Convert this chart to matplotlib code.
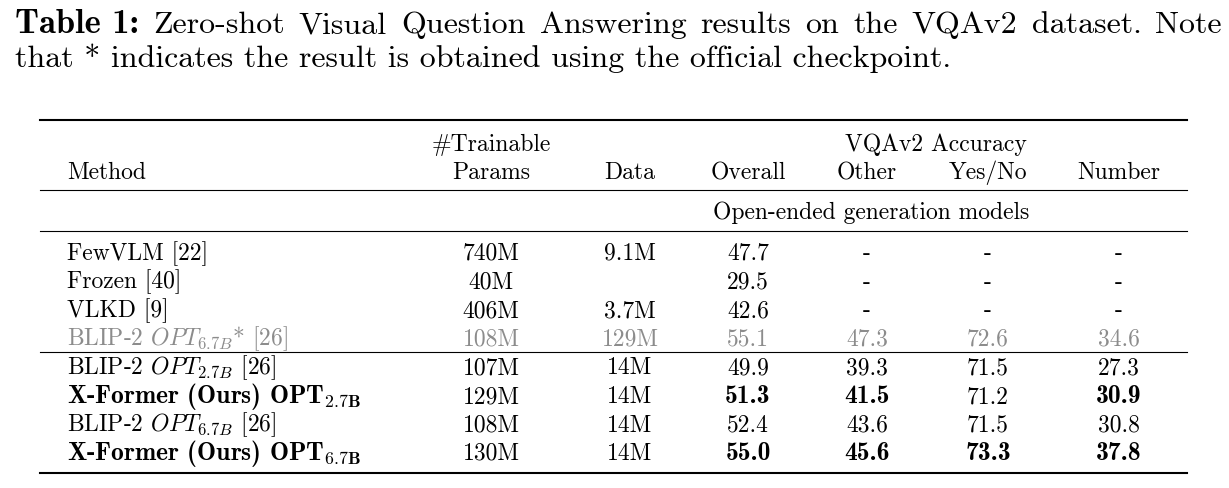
import matplotlib.pyplot as plt

plt.rcParams['mathtext.fontset'] = 'cm'
plt.rcParams['axes.unicode_minus'] = False

W, H = 1229, 489

caption_1 = ['Zero-shot', 'Visual', 'Question', 'Answering', 'results', 'on', 'the',
             'VQAv2', 'dataset.', 'Note']
caption_2 = 'that * indicates the result is obtained using the official checkpoint.'

methods = ['FewVLM [22]', 'Frozen [40]', 'VLKD [9]', r'BLIP-2 $OPT_{6.7B}$* [26]',
           r'BLIP-2 $OPT_{2.7B}$ [26]', r'X-Former (Ours) $\mathbf{OPT}_{\mathbf{2.7B}}$',
           r'BLIP-2 $OPT_{6.7B}$ [26]', r'X-Former (Ours) $\mathbf{OPT}_{\mathbf{6.7B}}$']
params = ['740M', '40M', '406M', '108M', '107M', '129M', '108M', '130M']
data = ['9.1M', '', '3.7M', '129M', '14M', '14M', '14M', '14M']
overall = ['47.7', '29.5', '42.6', '55.1', '49.9', '51.3', '52.4', '55.0']
other = ['-', '-', '-', '47.3', '39.3', '41.5', '43.6', '45.6']
yes_no = ['-', '-', '-', '72.6', '71.5', '71.2', '71.5', '73.3']
number = ['-', '-', '-', '34.6', '27.3', '30.9', '30.8', '37.8']

# which cells are bold / gray
bold_method = [0, 0, 0, 0, 0, 1, 0, 1]
bold_overall = [0, 0, 0, 0, 0, 1, 0, 1]
bold_other = [0, 0, 0, 0, 0, 1, 0, 1]
bold_yes_no = [0, 0, 0, 0, 0, 0, 0, 1]
bold_number = [0, 0, 0, 0, 0, 1, 0, 1]
gray_rows = [3]

fig = plt.figure(figsize=(W / 100, H / 100), dpi=100)
ax = fig.add_axes([0, 0, 1, 1])
ax.set_xlim(0, W)
ax.set_ylim(H, 0)
ax.axis('off')
r = fig.canvas.get_renderer()

BF = 1.08  # cmb10 is narrower than the latex bold extended font

# caption, first line justified
cap_fs = 23
t = ax.text(15, 33, 'Table 1:', fontfamily='cmb10', fontsize=cap_fs * BF, va='baseline')
x0 = t.get_window_extent(r).x1
words = [ax.text(0, 33, w, fontfamily='cmr10', fontsize=cap_fs, va='baseline') for w in caption_1]
widths = [w.get_window_extent(r).width for w in words]
gap = (1222 - x0 - sum(widths)) / len(words)
x = x0 + gap
for w, wd in zip(words, widths):
    w.set_x(x)
    x += wd + gap
ax.text(15, 67, caption_2, fontfamily='cmr10', fontsize=cap_fs, va='baseline')

# rules
x_l, x_r = 40, 1187
ax.plot([x_l, x_r], [121, 121], color='black', lw=1.5)
ax.plot([x_l, x_r], [191, 191], color='black', lw=0.8)
ax.plot([x_l, x_r], [232, 232], color='black', lw=0.8)
ax.plot([x_l, x_r], [353, 353], color='black', lw=0.8)
ax.plot([x_l, x_r], [474, 474], color='black', lw=1.5)

fs = 17
col_x = [491, 630, 748, 867, 988, 1119]

# header
ax.text(491, 151, '#Trainable', fontfamily='cmr10', fontsize=fs, va='baseline', ha='center')
ax.text(936, 151, 'VQAv2 Accuracy', fontfamily='cmr10', fontsize=fs, va='baseline', ha='center')
ax.text(67, 179, 'Method', fontfamily='cmr10', fontsize=fs, va='baseline')
for cx, h in zip(col_x, ['Params', 'Data', 'Overall', 'Other', 'Yes/No', 'Number']):
    ax.text(cx, 179, h, fontfamily='cmr10', fontsize=fs, va='baseline', ha='center')
ax.text(871, 219, 'Open-ended generation models', fontfamily='cmr10', fontsize=fs,
        va='baseline', ha='center')

# body
row_y = [260, 288.5, 317, 345.5, 374.5, 403, 431.5, 460]
columns = [params, data, overall, other, yes_no, number]
bolds = [[0] * 8, [0] * 8, bold_overall, bold_other, bold_yes_no, bold_number]
for i, y in enumerate(row_y):
    c = '0.55' if i in gray_rows else 'black'
    if bold_method[i]:
        ax.text(67, y, methods[i], fontfamily='cmb10', fontsize=fs * BF, va='baseline', color=c)
    else:
        ax.text(67, y, methods[i], fontfamily='cmr10', fontsize=fs, va='baseline', color=c)
    for cx, col, b in zip(col_x, columns, bolds):
        ax.text(cx, y, col[i], fontfamily='cmb10' if b[i] else 'cmr10',
                fontsize=fs * BF if b[i] else fs, va='baseline', ha='center', color=c)

fig.savefig('out.png', dpi=100, facecolor='white')
